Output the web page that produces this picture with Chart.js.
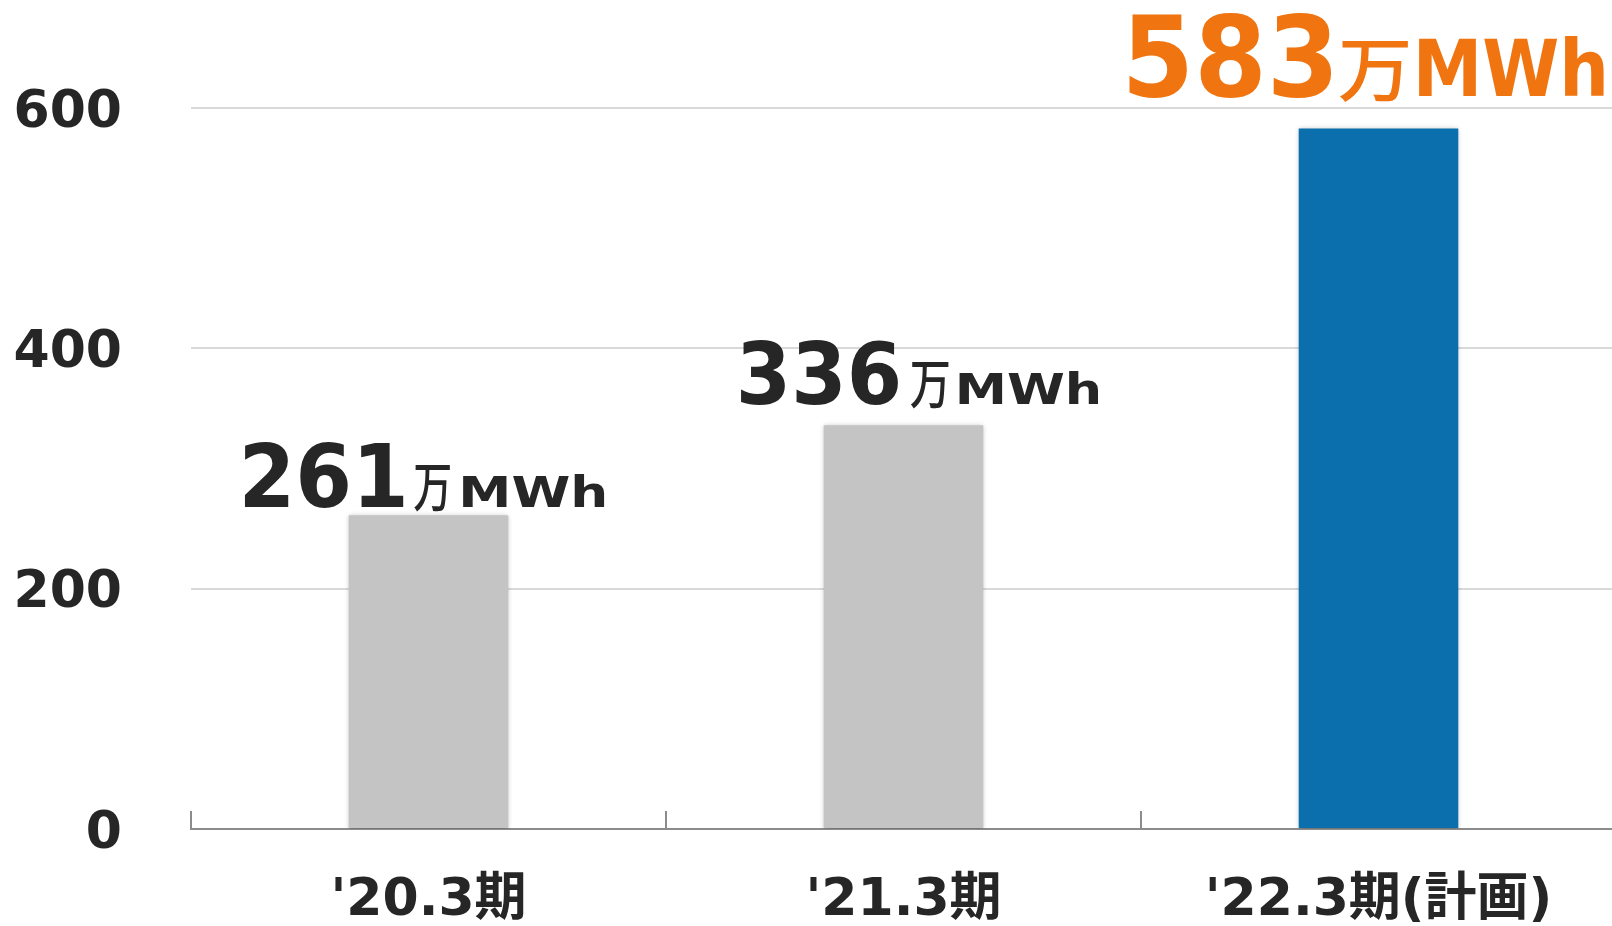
<!DOCTYPE html>
<html>
<head>
<meta charset="utf-8">
<script src="https://cdn.jsdelivr.net/npm/chart.js@4.4.1/dist/chart.umd.min.js"></script>
<style>
  html, body { margin: 0; padding: 0; background: #ffffff; overflow: hidden; }
  #wrap { width: 1616px; height: 926px; position: relative; }
</style>
</head>
<body>
<div id="wrap"><canvas id="c"></canvas></div>
<script>
// ---- data ----
const categories = ["'20.3期", "'21.3期", "'22.3期(計画)"];
const values = [261, 336, 583];
const yTickValues = [0, 200, 400, 600];
const unitCJK = "万";
const unitLatin = "MWh";

// ---- styles ----
const barColors = ['#c4c4c4', '#c4c4c4', '#0c6fad'];
const TEXT = '#262626';
const LABEL_STYLE = [
  { color: TEXT, numSize: 88, numW: 160, cjkSize: 53, cjkW: 36, latSize: 43, latW: 143, gap1: 10, gap2: 12, dx: -4, dy: 8 },
  { color: TEXT, numSize: 86, numW: 158, cjkSize: 53, cjkW: 38, latSize: 42, latW: 140, gap1: 12, gap2: 10, dx: 16, dy: 21 },
  { color: '#f07410', numSize: 112, numW: 203, cjkSize: 70, cjkW: 69, latSize: 78, latW: 185, gap1: 7, gap2: 11, dx: -12, dy: 32 }
];
const FONT_FAMILY = "'DejaVu Sans', 'Noto Sans CJK JP', sans-serif";

const shadowPlugin = {
  id: 'barShadow',
  beforeDatasetsDraw(chart) {
    const ctx = chart.ctx;
    ctx.save();
    ctx.shadowColor = 'rgba(0,0,0,0.28)';
    ctx.shadowBlur = 5;
    ctx.shadowOffsetX = 0;
    ctx.shadowOffsetY = 1;
  },
  afterDatasetsDraw(chart) {
    chart.ctx.restore();
  }
};

const labelPlugin = {
  id: 'valueLabels',
  afterDatasetsDraw(chart) {
    const ctx = chart.ctx;
    const meta = chart.getDatasetMeta(0);
    meta.data.forEach((bar, i) => {
      const st = LABEL_STYLE[i];
      const parts = [
        { text: String(values[i]), font: `bold ${st.numSize}px 'DejaVu Sans'`, w: st.numW },
        { text: unitCJK, font: `500 ${st.cjkSize}px 'Noto Sans CJK JP'`, w: st.cjkW },
        { text: unitLatin, font: `bold ${st.latSize}px 'DejaVu Sans'`, w: st.latW }
      ];
      const total = parts.reduce((s, p) => s + p.w, 0) + st.gap1 + st.gap2;
      let x = bar.x + st.dx - total / 2;
      const y = bar.y - st.dy;
      ctx.save();
      ctx.fillStyle = st.color;
      ctx.textAlign = 'left';
      ctx.textBaseline = 'alphabetic';
      parts.forEach((p, k) => {
        ctx.font = p.font;
        const m = ctx.measureText(p.text);
        const ink = m.actualBoundingBoxLeft + m.actualBoundingBoxRight;
        const sx = p.w / ink;
        ctx.save();
        ctx.translate(x, y);
        ctx.scale(sx, 1);
        ctx.fillText(p.text, m.actualBoundingBoxLeft, 0);
        ctx.restore();
        x += p.w + (k === 0 ? st.gap1 : st.gap2);
      });
      ctx.restore();
    });
  }
};

new Chart(document.getElementById('c'), {
  type: 'bar',
  data: {
    labels: categories,
    datasets: [{
      data: values,
      backgroundColor: barColors,
      borderWidth: 0,
      categoryPercentage: 1.0,
      barPercentage: 0.336
    }]
  },
  options: {
    responsive: true,
    maintainAspectRatio: false,
    animation: false,
    events: [],
    layout: { padding: { top: 108, left: 0, right: 0, bottom: 0 } },
    plugins: { legend: { display: false }, tooltip: { enabled: false } },
    scales: {
      x: {
        afterFit(scale) { scale.height = 97; scale.paddingLeft = 0; scale.paddingRight = 0; },
        grid: {
          display: true,
          drawOnChartArea: false,
          drawTicks: true,
          tickLength: -18,
          color: '#8c8c8c',
          lineWidth: 2
        },
        border: { display: true, color: '#8c8c8c', width: 2 },
        ticks: {
          color: TEXT,
          padding: 59,
          font: { family: FONT_FAMILY, size: 52, weight: 'bold' },
          maxRotation: 0,
          autoSkip: false
        }
      },
      y: {
        min: 0,
        max: 600,
        afterFit(scale) { scale.width = 191; scale.paddingTop = 0; scale.paddingBottom = 0; },
        afterBuildTicks(scale) { scale.ticks = yTickValues.map(v => ({ value: v })); },
        grid: {
          drawTicks: false,
          color: (c) => (c.tick && c.tick.value === 0) ? 'rgba(0,0,0,0)' : '#d9d9d9',
          lineWidth: 2
        },
        border: { display: false },
        ticks: {
          color: TEXT,
          padding: 69,
          labelOffset: 5,
          font: { family: FONT_FAMILY, size: 52, weight: 'bold' }
        }
      }
    }
  },
  plugins: [shadowPlugin, labelPlugin]
});
</script>
</body>
</html>
